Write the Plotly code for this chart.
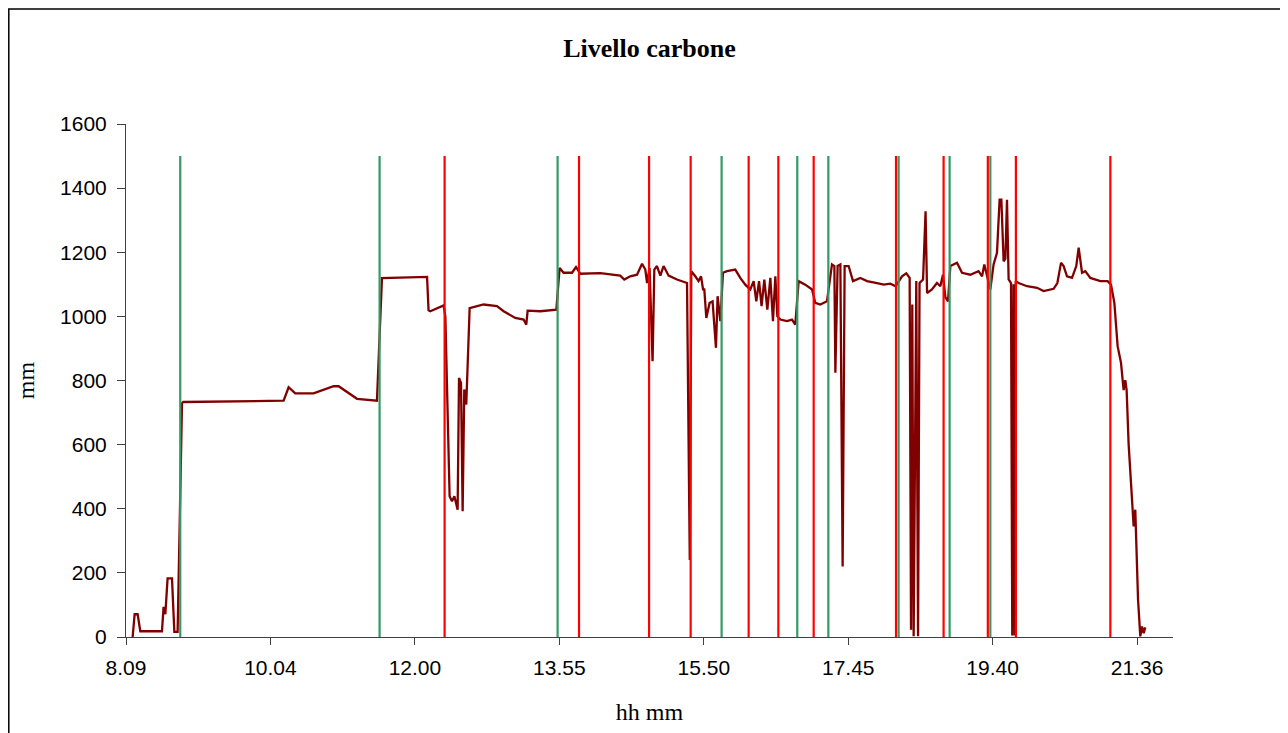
import plotly.graph_objects as go

# ---- data (time in minutes after midnight, level in mm) ----
time_min = [
    494.3, 495.9, 498.3, 500.4, 517.7, 519.0, 520.4, 522.2, 525.7, 527.6, 530.2, 533.7, 534.7,
    614.8, 618.8, 624.1, 638.7, 654.7, 658.7, 673.4, 689.3, 693.3, 729.3, 730.5, 731.9, 742.5,
    743.9, 747.3, 749.2, 751.1, 753.7, 754.8, 756.4, 757.7, 759.0, 760.6, 763.3, 774.4, 785.1,
    790.4, 799.7, 806.4, 808.5, 809.6, 819.7, 832.5, 835.1, 838.3, 845.0, 848.2, 851.6, 867.6,
    883.5, 886.7, 891.5, 896.9, 900.9, 903.5, 904.9, 906.9, 909.3, 910.7, 912.8, 915.5, 918.1,
    922.1, 928.8, 936.8, 939.0, 940.2, 943.4, 946.0, 948.0, 949.6, 950.6, 952.2, 954.8, 957.2,
    959.9, 961.2, 963.4, 965.5, 968.7, 975.3, 979.3, 983.3, 987.3, 990.0, 992.1, 994.3, 996.3,
    998.5, 1000.9, 1003.3, 1005.4, 1007.3, 1008.9, 1011.3, 1016.6, 1020.6, 1023.2, 1025.9,
    1031.2, 1036.6, 1039.2, 1043.2, 1048.5, 1052.5, 1054.4, 1055.2, 1057.0, 1059.2, 1061.0,
    1062.6, 1065.8, 1069.3, 1075.1, 1080.5, 1088.5, 1093.7, 1099.1, 1103.3, 1108.4, 1111.8,
    1114.5, 1115.6, 1116.6, 1117.7, 1119.8, 1121.2, 1122.4, 1125.2, 1127.2, 1128.4, 1132.3,
    1136.3, 1139.0, 1141.1, 1143.0, 1145.1, 1147.0, 1152.3, 1156.3, 1162.9, 1169.5, 1172.3,
    1174.1, 1176.5, 1178.9, 1181.5, 1184.2, 1186.3, 1187.7, 1189.5, 1190.9, 1192.2, 1193.5,
    1195.4, 1196.4, 1197.4, 1198.3, 1199.2, 1201.5, 1208.2, 1216.2, 1221.4, 1229.4, 1232.4,
    1235.3, 1237.4, 1240.1, 1244.1, 1247.5, 1249.4, 1252.1, 1254.7, 1258.7, 1266.7, 1272.5,
    1275.2, 1277.9, 1280.5, 1283.2, 1285.3, 1286.6, 1287.7, 1289.3, 1293.3, 1294.6, 1296.8,
    1298.6, 1300.0, 1301.3, 1302.6,
]
level_mm = [
    0, 71, 71, 18, 18, 94, 71, 183, 183, 16, 16, 729, 733,
    737, 779, 760, 760, 782, 782, 743, 737, 1119, 1123, 1019, 1016, 1034,
    1000, 439, 423, 439, 397, 808, 792, 392, 772, 725, 1026, 1037, 1032,
    1016, 995, 990, 974, 1018, 1016, 1021, 1151, 1136, 1136, 1154, 1133, 1135,
    1127, 1115, 1125, 1130, 1164, 1146, 1104, 1151, 860, 1146, 1157, 1127, 1157,
    1127, 1115, 1104, 240, 1141, 1125, 1110, 1125, 1084, 1084, 995, 1042, 1047,
    902, 1063, 985, 1136, 1141, 1146, 1120, 1099, 1084, 1110, 1047, 1110, 1032,
    1115, 1021, 1120, 985, 1125, 1000, 990, 985, 990, 974, 1110,
    1099, 1084, 1042, 1037, 1047, 1162, 1157, 824, 1157, 1162, 220,
    1157, 1157, 1110, 1120, 1110, 1104, 1099, 1102, 1094, 1125, 1134,
    1120, 23, 1037, 2, 1110, 2, 1104, 1115, 1328, 1073, 1084,
    1104, 1094, 1130, 1060, 1047, 1157, 1167, 1136, 1130, 1141, 1125,
    1162, 1120, 1084, 1162, 1198, 1364, 1364, 1172, 1180, 1364, 1115,
    1104, 5, 1100, 5, 1110, 1104, 1094, 1089, 1079, 1086, 1104,
    1167, 1157, 1125, 1120, 1157, 1214, 1136, 1141, 1120, 1110, 1110,
    1099, 1042, 907, 855, 770, 801, 770, 600, 345, 397, 116,
    2, 33, 12, 30,
]

green_events = [532.3, 691.4, 833.5, 964.4, 1024.8, 1049.6, 1105.7, 1146.4, 1178.9]
red_events = [743.3, 850.6, 906.5, 939.7, 986.0, 1009.7, 1037.9, 1103.6, 1141.6,
              1176.9, 1199.3, 1274.7]
event_low = 0
event_high = 1500

tick_vals = [489.0, 604.3, 719.6, 834.9, 950.2, 1065.5, 1180.7, 1296.0]
tick_text = ["8.09", "10.04", "12.00", "13.55", "15.50", "17.45", "19.40", "21.36"]
x_range = [489.0, 1324.7]
y_range = [0, 1600]
y_ticks = [0, 200, 400, 600, 800, 1000, 1200, 1400, 1600]


def vlines(times):
    xs, ys = [], []
    for t in times:
        xs += [t, t, None]
        ys += [event_low, event_high, None]
    return xs, ys


fig = go.Figure()
fig.add_trace(go.Scatter(x=time_min, y=level_mm, mode="lines",
                         line=dict(color="#800000", width=2.3), hoverinfo="skip"))
gx, gy = vlines(green_events)
fig.add_trace(go.Scatter(x=gx, y=gy, mode="lines",
                         line=dict(color="#339966", width=2.2), hoverinfo="skip"))
rx, ry = vlines(red_events)
fig.add_trace(go.Scatter(x=rx, y=ry, mode="lines",
                         line=dict(color="#FF0000", width=2.2), hoverinfo="skip"))

W, H = 1280, 725
L, R, T, B = 118, 115, 116, 96
pw, ph = W - L - R, H - T - B


def px(xp):
    return (xp - L) / pw


def py(yp):
    return (H - B - yp) / ph


serif = "Liberation Serif, Times New Roman, serif"
sans = "Liberation Sans, Arial, sans-serif"

fig.update_layout(
    width=W, height=H,
    margin=dict(l=L, r=R, t=T, b=B),
    paper_bgcolor="white", plot_bgcolor="white",
    showlegend=False,
    title=dict(text="<b>Livello carbone</b>", x=0.5, xref="paper", xanchor="center",
               y=1 - 40 / H, yanchor="middle",
               font=dict(family=serif, size=26, color="black")),
    xaxis=dict(range=x_range, tickmode="array", tickvals=tick_vals, ticktext=tick_text,
               showgrid=False, zeroline=False, showline=True, linecolor="#404040", linewidth=1,
               ticks="outside", ticklen=7, tickcolor="#404040", ticklabelstandoff=5,
               tickfont=dict(family=sans, size=21, color="black"),
               title=dict(text="hh mm", standoff=24,
                          font=dict(family=serif, size=24, color="black"))),
    yaxis=dict(range=y_range, tickmode="array", tickvals=y_ticks,
               showgrid=False, zeroline=False, showline=True, linecolor="#404040", linewidth=1,
               ticks="outside", ticklen=8, tickcolor="#404040", ticklabelstandoff=6,
               tickfont=dict(family=sans, size=21, color="black"),
               title=dict(text="mm", standoff=18,
                          font=dict(family=serif, size=24, color="black"))),
    shapes=[dict(type="rect", xref="paper", yref="paper",
                 x0=px(0.8), x1=px(1278), y0=py(740), y1=py(1),
                 line=dict(color="black", width=1.5), fillcolor="rgba(0,0,0,0)", layer="above")],
)

fig.write_html("out.html")
